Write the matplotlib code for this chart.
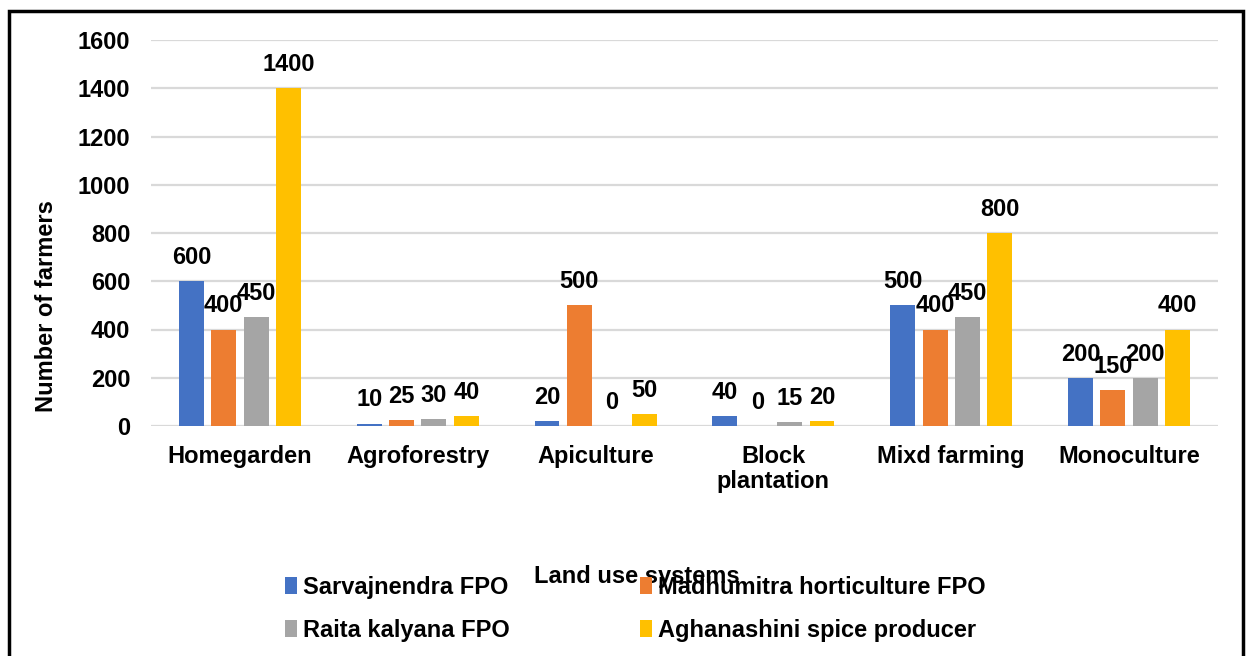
import matplotlib.pyplot as plt
import numpy as np
from matplotlib.patches import Rectangle

categories = ["Homegarden", "Agroforestry", "Apiculture", "Block\nplantation", "Mixd farming", "Monoculture"]
series_names = ["Sarvajnendra FPO", "Madhumitra horticulture FPO", "Raita kalyana FPO", "Aghanashini spice producer"]
sarvajnendra = [600, 10, 20, 40, 500, 200]
madhumitra = [400, 25, 500, 0, 400, 150]
raita = [450, 30, 0, 15, 450, 200]
aghanashini = [1400, 40, 50, 20, 800, 400]
y_ticks = [0, 200, 400, 600, 800, 1000, 1200, 1400, 1600]

colors = ["#4472C4", "#ED7D31", "#A5A5A5", "#FFC000"]

plt.rcParams['font.family'] = ['Liberation Sans', 'DejaVu Sans']
plt.rcParams['font.weight'] = 'bold'

fig = plt.figure(figsize=(12.47, 6.56), dpi=100)
ax = fig.add_axes([151 / 1247, 1 - 426 / 656, (1218 - 151) / 1247, (426 - 40) / 656])

x = np.arange(len(categories))
width = 0.14
step = 0.182
all_series = [sarvajnendra, madhumitra, raita, aghanashini]
bars = []
for i, (vals, name) in enumerate(zip(all_series, series_names)):
    pos = x + (i - 1.5) * step
    bars.append(ax.bar(pos, vals, width, color=colors[i], label=name, zorder=3))
    for px, v in zip(pos, vals):
        ax.annotate(str(v), (px, v), xytext=(0, 17), textcoords='offset points',
                    ha='center', va='center', fontsize=17, fontweight='bold', zorder=4)

ax.set_xlim(-0.5, 5.5)
ax.set_ylim(0, 1600)
ax.set_yticks(y_ticks)
ax.set_xticks(x)
ax.set_xticklabels(categories, fontsize=17, fontweight='bold', va='top', linespacing=1.1)
ax.tick_params(axis='y', labelsize=17, length=0, pad=15)
ax.tick_params(axis='x', length=0, pad=14)
ax.grid(axis='y', color='#d9d9d9', linewidth=1.6, zorder=0)
for s in ax.spines.values():
    s.set_visible(False)

fig.text(47 / 1247, 1 - 306 / 656, "Number of farmers", rotation=90, ha='center', va='center',
         fontsize=17, fontweight='bold')
# sits over the legend, same as in the original
fig.text(637 / 1247, 1 - 577 / 656, "Land use systems", ha='center', va='center',
         fontsize=17, fontweight='bold')

# row-wise order like Excel: ncol=2 fills by column, so swap
order = [0, 2, 1, 3]
leg = fig.legend([bars[i] for i in order], [series_names[i] for i in order],
                 loc='upper left', bbox_to_anchor=(273 / 1247, 1 - 564 / 656), ncol=2, frameon=False,
                 prop={'size': 17, 'weight': 'bold'},
                 handlelength=0.53, handleheight=0.75, handletextpad=0.25,
                 columnspacing=5.5, labelspacing=0.85, borderpad=0)

border = Rectangle((9 / 1247, -0.05), (1243 - 9) / 1247, 1 - 11 / 656 + 0.05, transform=fig.transFigure,
                   fill=False, edgecolor='black', linewidth=2.5, clip_on=False)
fig.patches.append(border)

fig.savefig("out.png", dpi=100)
